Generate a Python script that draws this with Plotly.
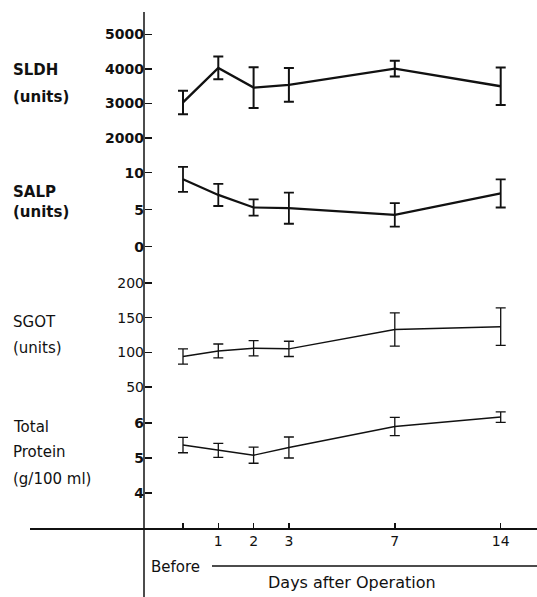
import plotly.graph_objects as go

W, H = 537, 597

# ---- data ----
day_labels = ["Before", "1", "2", "3", "7", "14"]
x_pos = [0, 1, 2, 3, 6, 9]          # plotting positions of the days on the axis

sldh_mean = [3030, 4030, 3460, 3540, 4010, 3500]
sldh_err = [340, 330, 590, 490, 230, 540]

salp_mean = [9.1, 7.0, 5.3, 5.2, 4.3, 7.2]
salp_err = [1.7, 1.5, 1.1, 2.1, 1.6, 1.9]

sgot_mean = [94, 102, 106, 105, 133, 137]
sgot_err = [11, 10, 11, 11, 24, 27]

tp_mean = [5.37, 5.22, 5.08, 5.30, 5.90, 6.17]
tp_err = [0.22, 0.20, 0.23, 0.30, 0.26, 0.15]

sldh_ticks = [2000, 3000, 4000, 5000]
salp_ticks = [0, 5, 10]
sgot_ticks = [50, 100, 150, 200]
tp_ticks = [4, 5, 6]

FONT = "DejaVu Sans"
INK = "#111111"


def fx(px):
    return px / W


def fy(py):
    return 1 - py / H


def axis_range(v1, p1, v2, p2, top, bottom):
    # linear map value->pixel from two calibration ticks; return range for pixel span
    s = (p2 - p1) / (v2 - v1)
    lo = v1 + (bottom - p1) / s
    hi = v1 + (top - p1) / s
    return [lo, hi]


AXIS_X = 144
X_AXIS_Y = 528
X0_PX, X_UNIT = 183, 35.3

panels = [
    # (mean, err, ticks, calib, domain px, line width, bold)
    (sldh_mean, sldh_err, sldh_ticks, (5000, 34.5, 2000, 138), (15, 155), 2.4, True),
    (salp_mean, salp_err, salp_ticks, (10, 172.7, 0, 246.7), (155, 265), 2.2, True),
    (sgot_mean, sgot_err, sgot_ticks, (200, 283, 50, 387), (265, 405), 1.5, False),
    (tp_mean, tp_err, tp_ticks, (6, 423, 4, 493), (405, X_AXIS_Y), 1.4, True),
]

fig = go.Figure()
layout = {}
for i, (m, e, ticks, cal, dom, lw, bold) in enumerate(panels):
    yname = "y" if i == 0 else f"y{i+1}"
    key = "yaxis" if i == 0 else f"yaxis{i+1}"
    fig.add_trace(go.Scatter(
        x=x_pos, y=m, xaxis="x", yaxis=yname, mode="lines",
        line=dict(color=INK, width=lw),
        error_y=dict(type="data", array=e, visible=True, color=INK,
                     thickness=max(1.3, lw - 0.4), width=5),
        showlegend=False, hoverinfo="skip"))
    layout[key] = dict(
        domain=[fy(dom[1]), fy(dom[0])],
        range=axis_range(cal[0], cal[1], cal[2], cal[3], dom[0], dom[1]),
        anchor="free", position=fx(AXIS_X),
        showline=False, showgrid=False, zeroline=False,
        ticks="inside", ticklen=7, tickwidth=1.5, tickcolor=INK,
        tickvals=ticks, ticktext=[str(t) for t in ticks],
        tickfont=dict(family=FONT, size=14, color=INK,
                      weight="bold" if bold else "normal"),
    )

layout["xaxis"] = dict(
    domain=[fx(30), 1],
    range=[(30 - X0_PX) / X_UNIT, (W - X0_PX) / X_UNIT],
    anchor="free", position=fy(X_AXIS_Y),
    showline=True, linecolor=INK, linewidth=1.5,
    showgrid=False, zeroline=False,
    ticks="inside", ticklen=5, tickwidth=1.5, tickcolor=INK,
    tickvals=x_pos, ticktext=[""] + day_labels[1:],
    tickfont=dict(family=FONT, size=14, color=INK),
)

fig.update_layout(**layout)

# vertical axis line and lower rule
fig.add_shape(type="line", xref="paper", yref="paper",
              x0=fx(AXIS_X), x1=fx(AXIS_X), y0=fy(12), y1=fy(597),
              line=dict(color=INK, width=1.5))
fig.add_shape(type="line", xref="paper", yref="paper",
              x0=fx(212), x1=1, y0=fy(566), y1=fy(566),
              line=dict(color=INK, width=1.3))

labels = [
    ("SLDH", 70, True), ("(units)", 97, True),
    ("SALP", 192, True), ("(units)", 212, True),
    ("SGOT", 322, False), ("(units)", 348, False),
    ("Total", 427, False), ("Protein", 452, False), ("(g/100 ml)", 479, False),
]
for txt, py, bold in labels:
    fig.add_annotation(text=txt, x=fx(11), y=fy(py), xref="paper", yref="paper",
                       xanchor="left", yanchor="middle", showarrow=False,
                       font=dict(family=FONT, size=15, color=INK,
                                 weight="bold" if bold else "normal"))

fig.add_annotation(text="Before", x=fx(149), y=fy(567), xref="paper", yref="paper",
                   xanchor="left", yanchor="middle", showarrow=False,
                   font=dict(family=FONT, size=15, color=INK))
fig.add_annotation(text="Days after Operation", x=fx(352), y=fy(582), xref="paper",
                   yref="paper", xanchor="center", yanchor="middle", showarrow=False,
                   font=dict(family=FONT, size=16, color=INK))

fig.update_layout(width=W, height=H, margin=dict(l=0, r=0, t=0, b=0),
                  paper_bgcolor="white", plot_bgcolor="white")

fig.write_html("out.html", config={"displayModeBar": False, "staticPlot": True},
               post_script="document.body.style.margin='0';document.body.style.padding='0';")
